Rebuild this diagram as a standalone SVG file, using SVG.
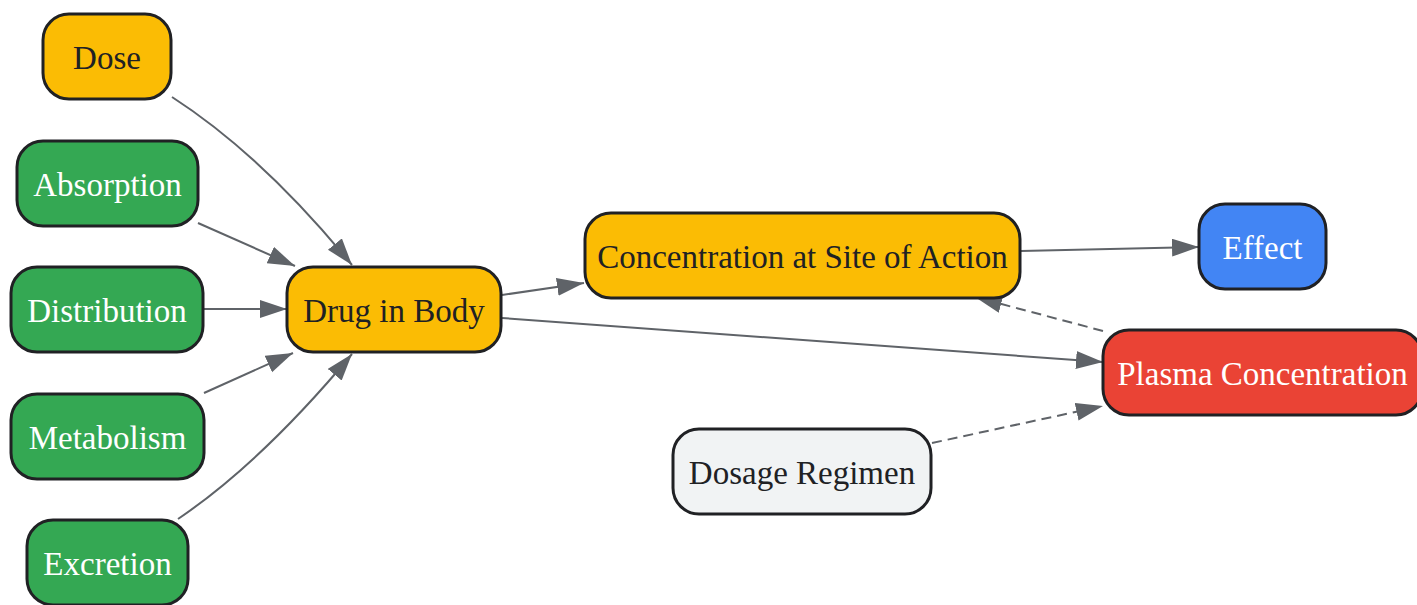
<svg xmlns="http://www.w3.org/2000/svg" width="1417" height="605" viewBox="0 0 1417 605">
<style>
.n rect{stroke:#202124;stroke-width:3}
.n text{font-family:"Liberation Serif","Times New Roman",serif;font-size:33px;text-anchor:middle}
.y rect{fill:#FBBC04}.y text{fill:#202124}
.g rect{fill:#34A853}.g text{fill:#ffffff}
.b rect{fill:#4285F4}.b text{fill:#ffffff}
.r rect{fill:#EA4335}.r text{fill:#ffffff}
.w rect{fill:#F1F3F4}.w text{fill:#202124}
.e path{fill:none;stroke:#5f6368;stroke-width:2;marker-end:url(#ah)}
.e path.d{stroke-dasharray:10 6}
</style>
<defs>
<marker id="ah" markerUnits="userSpaceOnUse" markerWidth="28" markerHeight="20" refX="27" refY="9" orient="auto" viewBox="0 0 28 20">
<path d="M0,0 L27,9 L0,18 z" fill="#5f6368"/>
</marker>
</defs>
<g id="edges" class="e">
<path d="M172,97 Q262,155 352,265"/>
<path d="M198,223 L295,266"/>
<path d="M204,309 L287,309"/>
<path d="M204,393 L293,353"/>
<path d="M178,519 Q262,462 352,354"/>
<path d="M502,295 L584,283"/>
<path d="M502,318 L1103,362"/>
<path d="M1021,251 L1199,247"/>
<path class="d" d="M1103,331 L975,297"/>
<path class="d" d="M932,443 L1103,406"/>
</g>
<g id="dose" class="n y"><rect x="43" y="14" width="128" height="85" rx="26"/><text x="107" y="69">Dose</text></g>
<g id="absorption" class="n g"><rect x="17" y="141" width="181" height="85" rx="26"/><text x="107.5" y="196">Absorption</text></g>
<g id="distribution" class="n g"><rect x="11" y="267" width="192" height="85" rx="26"/><text x="107" y="322">Distribution</text></g>
<g id="metabolism" class="n g"><rect x="11" y="394" width="193" height="85" rx="26"/><text x="107.5" y="449">Metabolism</text></g>
<g id="excretion" class="n g"><rect x="27" y="520" width="161" height="85" rx="26"/><text x="107.5" y="575">Excretion</text></g>
<g id="drug" class="n y"><rect x="287" y="267" width="214" height="85" rx="26"/><text x="394" y="322">Drug in Body</text></g>
<g id="site" class="n y"><rect x="585" y="213" width="435" height="85" rx="26"/><text x="802.5" y="268">Concentration at Site of Action</text></g>
<g id="effect" class="n b"><rect x="1199" y="204" width="127" height="85" rx="26"/><text x="1262.5" y="259">Effect</text></g>
<g id="plasma" class="n r"><rect x="1103" y="330" width="319" height="85" rx="26"/><text x="1262.5" y="385">Plasma Concentration</text></g>
<g id="regimen" class="n w"><rect x="673" y="429" width="258" height="85" rx="26"/><text x="802" y="484">Dosage Regimen</text></g>
</svg>
